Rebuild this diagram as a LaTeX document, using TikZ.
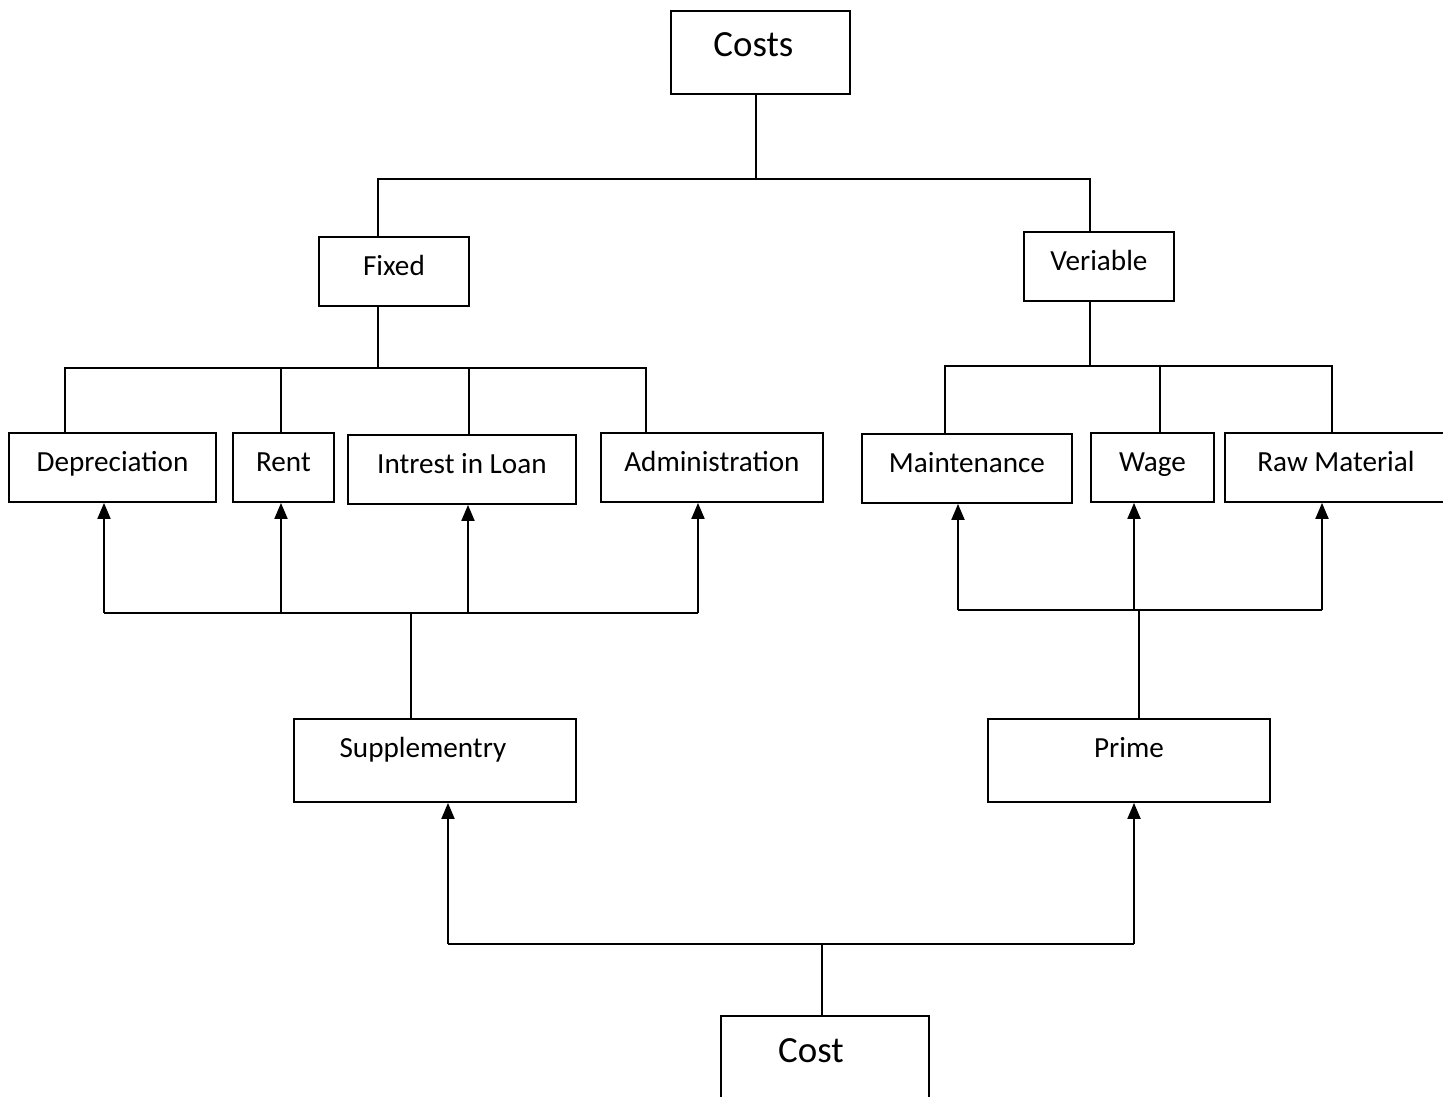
\documentclass[tikz,border=0pt]{standalone}
\usepackage{fontspec}
\setmainfont{Carlito}
\usetikzlibrary{arrows.meta}

\tikzset{
    box/.style={draw, line width=1.1pt, anchor=north west, inner xsep=0pt, inner ysep=0pt,
        minimum width=#1, text height=0.78cm, text depth=0.6cm,
        font=\fontsize{16.6}{19}\selectfont},
    bigbox/.style={box=#1, text height=0.92cm, text depth=0.74cm,
        font=\fontsize{21}{25}\selectfont},
    midbox/.style={box=#1, text depth=0.88cm},
    arr/.style={-{Triangle[width=0.26cm,length=0.32cm]}}
}

\begin{document}
\begin{tikzpicture}[x=0.02cm, y=-0.02cm, line width=1.1pt]
        \useasboundingbox (0,0) rectangle (1443,1097);
        \clip (0,0) rectangle (1443,1097);
        % boxes
        \node[bigbox=3.58cm] (costs) at (670,10) {Costs\hspace*{0.28cm}};
        \node[box=3cm] (fixed) at (318,236) {Fixed};
        \node[box=3cm] (veriable) at (1023,231) {Veriable};
        \node[box=4.14cm] (dep) at (8,432) {Depreciation};
        \node[box=2.02cm] (rent) at (232,432) {Rent};
        \node[box=4.56cm] (int) at (347,434) {Intrest in Loan};
        \node[box=4.44cm] (adm) at (600,432) {Administration};
        \node[box=4.2cm] (maint) at (861,433) {Maintenance};
        \node[box=2.46cm] (wage) at (1090,432) {Wage};
        \node[box=4.44cm] (raw) at (1224,432) {Raw Material};
        \node[midbox=5.64cm] (supp) at (293,718) {Supplementry\hspace*{0.48cm}};
        \node[midbox=5.64cm] (prime) at (987,718) {Prime};
        \node[bigbox=4.16cm, text height=0.94cm, text depth=0.72cm] (cost) at (720,1015) {Cost\hspace*{0.56cm}};

        % costs -> fixed, veriable
        \coordinate (c0) at (756,179);
        \coordinate (c1) at (378,179);
        \coordinate (c2) at (1090,179);
        \draw (c0 |- costs.south) -- (c0);
        \draw (c1 |- fixed.north) |- (c2) -- (c2 |- veriable.north);

        % fixed branch
        \coordinate (f0) at (378,368);
        \coordinate (f1) at (65,368);
        \coordinate (f2) at (281,368);
        \coordinate (f3) at (469,368);
        \coordinate (f4) at (646,368);
        \draw (f0 |- fixed.south) -- (f0);
        \draw (f1 |- dep.north) |- (f4) -- (f4 |- adm.north);
        \draw (f2) -- (f2 |- rent.north);
        \draw (f3) -- (f3 |- int.north);

        % veriable branch
        \coordinate (v0) at (1090,366);
        \coordinate (v1) at (945,366);
        \coordinate (v2) at (1160,366);
        \coordinate (v3) at (1332,366);
        \draw (v0 |- veriable.south) -- (v0);
        \draw (v1 |- maint.north) |- (v3) -- (v3 |- raw.north);
        \draw (v2) -- (v2 |- wage.north);

        % supplementry -> fixed costs
        \coordinate (s0) at (411,613);
        \coordinate (s1) at (104,613);
        \coordinate (s2) at (281,613);
        \coordinate (s3) at (468,613);
        \coordinate (s4) at (698,613);
        \draw (s0 |- supp.north) -- (s0);
        \draw (s1) -- (s4);
        \draw[arr] (s1) -- (s1 |- dep.south);
        \draw[arr] (s2) -- (s2 |- rent.south);
        \draw[arr] (s3) -- (s3 |- int.south);
        \draw[arr] (s4) -- (s4 |- adm.south);

        % prime -> variable costs
        \coordinate (p0) at (1139,610);
        \coordinate (p1) at (958,610);
        \coordinate (p2) at (1134,610);
        \coordinate (p3) at (1322,610);
        \draw (p0 |- prime.north) -- (p0);
        \draw (p1) -- (p3);
        \draw[arr] (p1) -- (p1 |- maint.south);
        \draw[arr] (p2) -- (p2 |- wage.south);
        \draw[arr] (p3) -- (p3 |- raw.south);

        % cost -> supplementry, prime
        \coordinate (b0) at (822,944);
        \coordinate (b1) at (448,944);
        \coordinate (b2) at (1134,944);
        \draw (b0 |- cost.north) -- (b0);
        \draw (b1) -- (b2);
        \draw[arr] (b1) -- (b1 |- supp.south);
        \draw[arr] (b2) -- (b2 |- prime.south);
    \end{tikzpicture}
\end{document}
